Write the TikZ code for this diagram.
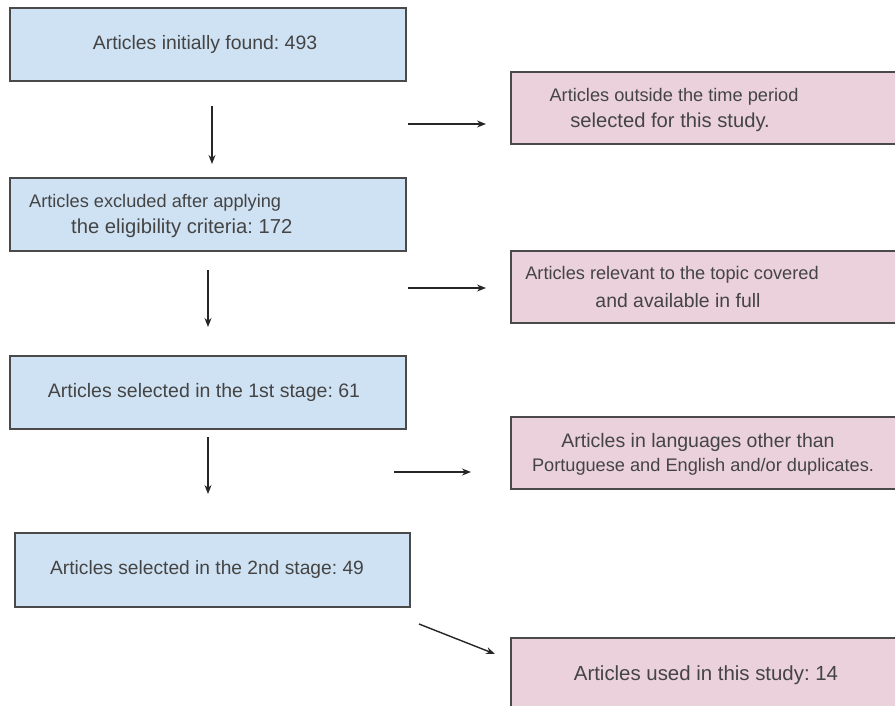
\documentclass[tikz,border=0pt]{standalone}
\usepackage{fontspec}
\setmainfont{Liberation Sans}
\frenchspacing
\usetikzlibrary{arrows.meta}
\definecolor{boxblue}{HTML}{CFE2F3}
\definecolor{boxpink}{HTML}{EAD1DC}
\definecolor{edge}{HTML}{4A4A4A}
\definecolor{txtgray}{HTML}{444444}
\tikzset{
  bluebox/.style={draw=edge, fill=boxblue, line width=1.6pt},
  pinkbox/.style={draw=edge, fill=boxpink, line width=1.6pt},
  txt/.style={text=txtgray, font=\fontsize{#1}{#1}\selectfont, inner sep=0pt, align=center},
  txt/.default=18.2,
  arr/.style={draw=black!85, line width=1.4pt, -{Stealth[length=9pt,width=7pt]}}
}
\begin{document}
\begin{tikzpicture}[x=1pt,y=-1pt]
\useasboundingbox (0,0) rectangle (895,706);
\clip (0,0) rectangle (895,706);
% left column boxes
\draw[bluebox] (10,8) rectangle (406,81);
\node[txt=19.4] (t1) at (205,44) {Articles initially found: 493};
\draw[bluebox] (10,178) rectangle (406,251);
\node[txt, anchor=west] (t2a) at (29,203) {Articles excluded after applying};
\node[txt=20.2, anchor=west] (t2b) at (71,228) {the eligibility criteria: 172};
\draw[bluebox] (10,356) rectangle (406,429);
\node[txt=19.5] (t3) at (204,392) {Articles selected in the 1st stage: 61};
\draw[bluebox] (15,533) rectangle (410,607);
\node[txt=19.2] (t4) at (207,570) {Articles selected in the 2nd stage: 49};
% right column boxes
\draw[pinkbox] (511,72) rectangle (905,144);
\node[txt] (p1a) at (674,97) {Articles outside the time period};
\node[txt=20.2] (p1b) at (670,122) {selected for this study.};
\draw[pinkbox] (511,251) rectangle (905,323);
\node[txt] (p2a) at (672,275) {Articles relevant to the topic covered};
\node[txt=19.4] (p2b) at (678,301) {and available in full};
\draw[pinkbox] (511,417) rectangle (905,489);
\node[txt=19.5] (p3a) at (698,442) {Articles in languages other than};
\node[txt] (p3b) at (703,467) {Portuguese and English and/or duplicates.};
\draw[pinkbox] (511,638) rectangle (905,715);
\node[txt=20.4] (p4) at (706,675) {Articles used in this study: 14};
% arrow end points
\coordinate (v1s) at (212,106); \coordinate (v1e) at (212,164);
\coordinate (v2s) at (208,270); \coordinate (v2e) at (208,327);
\coordinate (v3s) at (208,437); \coordinate (v3e) at (208,494);
\coordinate (h1s) at (408,124); \coordinate (h1e) at (486,124);
\coordinate (h2s) at (408,288); \coordinate (h2e) at (486,288);
\coordinate (h3s) at (394,472); \coordinate (h3e) at (471,472);
\coordinate (ds) at (419,624); \coordinate (de) at (495,654);
\draw[arr] (v1s) -- (v1e);
\draw[arr] (v2s) -- (v2e);
\draw[arr] (v3s) -- (v3e);
\draw[arr] (h1s) -- (h1e);
\draw[arr] (h2s) -- (h2e);
\draw[arr] (h3s) -- (h3e);
\draw[arr] (ds) -- (de);
\end{tikzpicture}
\end{document}
